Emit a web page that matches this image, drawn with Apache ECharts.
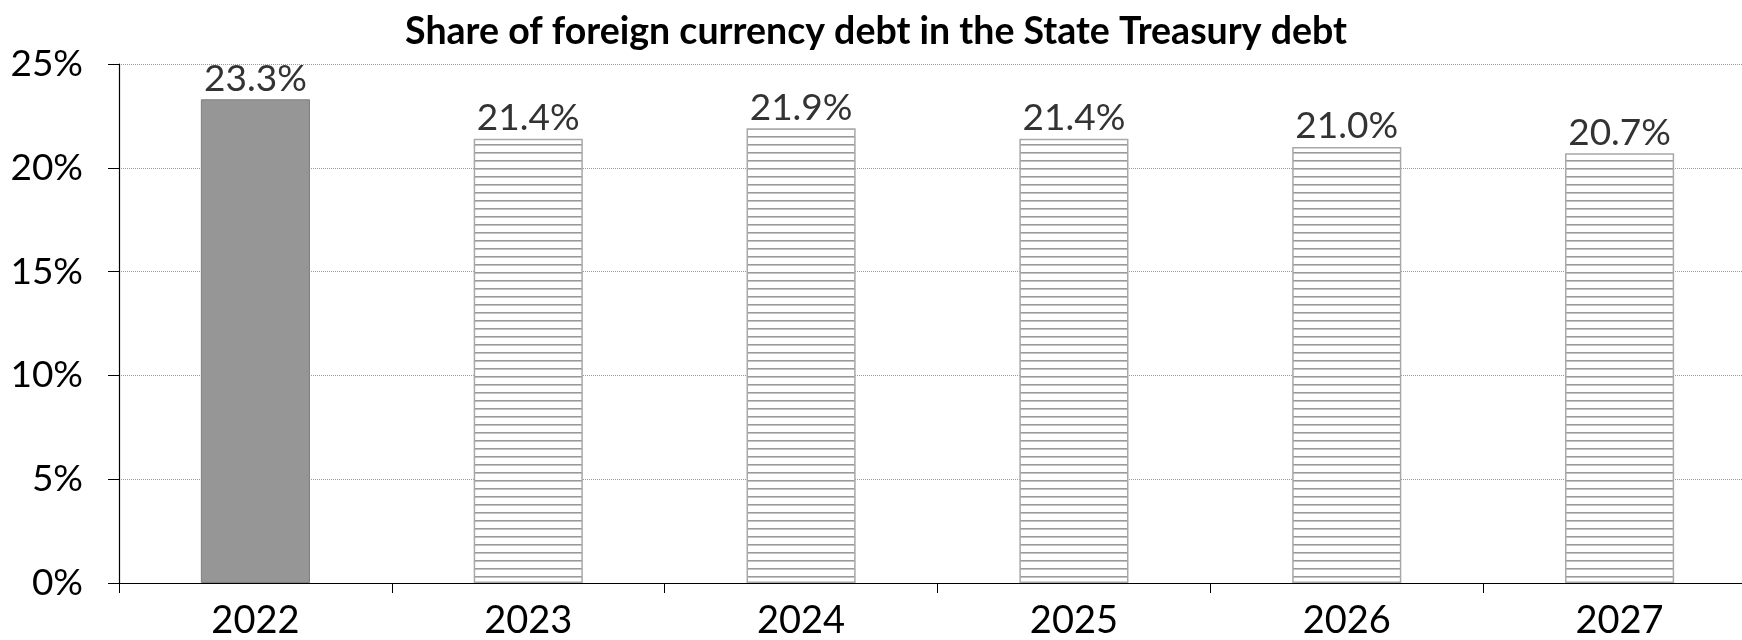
<!DOCTYPE html>
<html>
<head>
<meta charset="utf-8">
<script src="https://cdn.jsdelivr.net/npm/echarts@6/dist/echarts.min.js"></script>
<style>
  html, body { margin: 0; padding: 0; background: #fff; overflow: hidden; }
  #chart { width: 1756px; height: 640px; }
</style>
</head>
<body>
<div id="chart"></div>
<script>
var years = ['2022', '2023', '2024', '2025', '2026', '2027'];
var shares = [23.3, 21.4, 21.9, 21.4, 21.0, 20.7];
var yTicks = [0, 5, 10, 15, 20, 25];

// horizontal stripe pattern for the forecast bars
function stripes() {
  var c = document.createElement('canvas');
  c.width = 8;
  c.height = 8;
  var ctx = c.getContext('2d');
  ctx.fillStyle = '#fff';
  ctx.fillRect(0, 0, 8, 8);
  ctx.fillStyle = '#9a9a9a';
  ctx.fillRect(0, 0, 8, 1.6);
  return c;
}
var pattern = { image: stripes(), repeat: 'repeat' };

var barData = shares.map(function (v, i) {
  if (i === 0) {
    return { value: v, itemStyle: { color: '#969696', borderColor: '#7f7f7f', borderWidth: 1 } };
  }
  return { value: v, itemStyle: { color: pattern, borderColor: '#a8a8a8', borderWidth: 1.5 } };
});

var chart = echarts.init(document.getElementById('chart'));
chart.setOption({
  animation: false,
  title: {
    text: 'Share of foreign currency debt in the State Treasury debt',
    left: 871,
    textAlign: 'center',
    top: 8,
    textStyle: { fontFamily: 'Lato', fontWeight: 'bold', fontSize: 37.5, color: '#000' }
  },
  grid: { left: 119, right: 0, top: 64, bottom: 52 },
  xAxis: {
    type: 'category',
    data: years,
    boundaryGap: true,
    axisLine: { lineStyle: { color: '#000', width: 1.2 } },
    axisTick: { show: true, length: 10, lineStyle: { color: '#000' } },
    axisLabel: { fontFamily: 'Lato', fontSize: 38, color: '#000', margin: 19 }
  },
  yAxis: {
    type: 'value',
    min: yTicks[0],
    max: yTicks[yTicks.length - 1],
    interval: 5,
    axisLine: { show: true, lineStyle: { color: '#000', width: 1.2 } },
    axisTick: { show: true, length: 11, lineStyle: { color: '#000' } },
    axisLabel: { fontFamily: 'Lato', fontSize: 37, color: '#000', margin: 36, formatter: '{value}%' },
    splitLine: { show: true, lineStyle: { color: '#9a9a9a', type: 'dotted', width: 1 } }
  },
  series: [{
    type: 'bar',
    data: barData,
    barWidth: '40%',
    label: {
      show: true,
      position: 'top',
      distance: 2,
      fontFamily: 'Lato',
      fontSize: 37,
      color: '#333',
      formatter: function (p) { return p.value.toFixed(1) + '%'; }
    }
  }]
});
</script>
</body>
</html>
